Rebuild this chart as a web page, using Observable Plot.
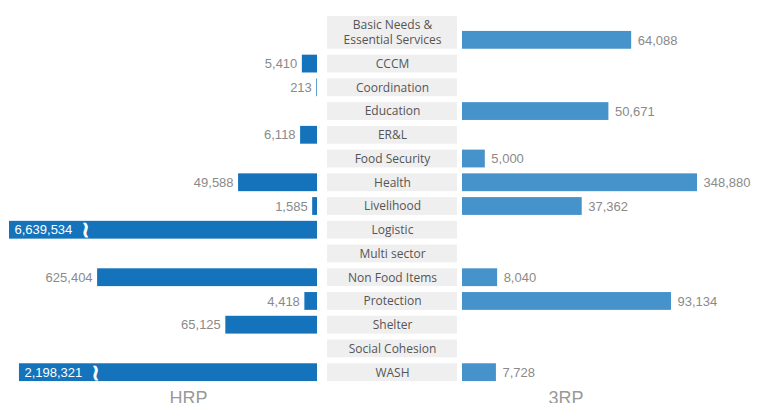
<!DOCTYPE html>
<html>
<head>
<meta charset="utf-8">
<script src="https://cdn.jsdelivr.net/npm/d3@7"></script>
<script src="https://cdn.jsdelivr.net/npm/@observablehq/plot@0.6"></script>
<style>
  html, body { margin: 0; padding: 0; background: #fff; }
  #chart { position: relative; width: 760px; height: 403px; overflow: hidden; }
  #chart > svg { position: absolute; top: 0; }
</style>
</head>
<body>
<div id="chart"></div>
<script>
const categories = [
  "Basic Needs &\nEssential Services", "CCCM", "Coordination", "Education", "ER&L",
  "Food Security", "Health", "Livelihood", "Logistic", "Multi sector",
  "Non Food Items", "Protection", "Shelter", "Social Cohesion", "WASH"
];
const hrpValues = [0, 5410, 213, 0, 6118, 0, 49588, 1585, 6639534, 0, 625404, 4418, 65125, 0, 2198321];
const rrpValues = [64088, 0, 0, 50671, 0, 5000, 348880, 37362, 0, 0, 8040, 93134, 0, 0, 7728];
const sideTitles = ["HRP", "3RP"];

const data = categories.map((c, i) => ({category: c, hrp: hrpValues[i], rrp: rrpValues[i]}));
const fmt = d3.format(",");

const H = 403;
const yScale = {domain: categories, padding: 0.25, round: false, axis: null};
const common = {height: H, marginTop: 25, marginBottom: 16, style: {background: "transparent", overflow: "visible"}};

const hrpMax = 2576000;
const rrpMax = 116800;
const leftColor = "#1473ba";
const rightColor = "#4692ca";
const valueColor = "#8a8a8a";
const valueFont = "'Liberation Sans', Arial, sans-serif";

// Left (HRP)
const left = Plot.plot({
  ...common,
  width: 327, marginLeft: 9, marginRight: 10,
  x: {type: "symlog", constant: 20000, domain: [0, hrpMax], clamp: true, reverse: true, axis: null},
  y: yScale,
  marks: [
    Plot.ruleX(data, {x: 0, y: "category", stroke: leftColor, strokeWidth: 1.5}),
    Plot.barX(data.filter(d => d.hrp > 0), {x: "hrp", y: "category", fill: leftColor}),
    Plot.text(data.filter(d => d.hrp > 0 && d.hrp < 1000000), {
      x: "hrp", y: "category", text: d => fmt(d.hrp), textAnchor: "end", dx: -5,
      fill: valueColor, fontSize: 13, fontFamily: valueFont
    }),
    Plot.text(data.filter(d => d.hrp >= 1000000), {
      x: "hrp", y: "category", text: d => fmt(d.hrp), textAnchor: "start", dx: 5,
      fill: "white", fontSize: 13, fontFamily: valueFont
    }),
    Plot.text(data.filter(d => d.hrp >= 1000000), {
      x: "hrp", y: "category", text: () => "\u2240", textAnchor: "start", dx: 72,
      fill: "white", stroke: "white", strokeWidth: 1, fontSize: 22, fontFamily: "DejaVu Sans"
    }),
    Plot.text([sideTitles[0]], {
      frameAnchor: "bottom", text: d => d, lineAnchor: "bottom", dy: 16, dx: 25,
      fill: "#999", fontSize: 18, fontFamily: valueFont
    })
  ]
});
left.style.left = "0px";

// Middle (category labels)
const middle = Plot.plot({
  ...common,
  width: 130, marginLeft: 0, marginRight: 0,
  x: {domain: [0, 1], axis: null},
  y: yScale,
  marks: [
    Plot.barX(data.slice(1), {x1: 0, x2: 1, y: "category", fill: "#efefef"}),
    Plot.barX(data.slice(0, 1), {x1: 0, x2: 1, y: "category", fill: "#efefef", insetTop: -15}),
    Plot.text(data.slice(1), {
      y: "category", text: "category", frameAnchor: "middle",
      fill: "#555", fontSize: 12, fontFamily: "'Open Sans', sans-serif"
    }),
    Plot.text(data.slice(0, 1), {
      y: "category", text: "category", frameAnchor: "middle", dy: -9, lineHeight: 1.25,
      fill: "#555", fontSize: 12, fontFamily: "'Open Sans', sans-serif"
    })
  ]
});
middle.style.left = "327px";

// Right (3RP)
const right = Plot.plot({
  ...common,
  width: 303, marginLeft: 5, marginRight: 63,
  x: {type: "symlog", constant: 30000, domain: [0, rrpMax], clamp: true, axis: null},
  y: yScale,
  marks: [
    Plot.ruleX(data, {x: 0, y: "category", stroke: rightColor, strokeWidth: 1.5}),
    Plot.barX(data.filter(d => d.rrp > 0), {x: "rrp", y: "category", fill: rightColor}),
    Plot.text(data.filter(d => d.rrp > 0), {
      x: "rrp", y: "category", text: d => fmt(d.rrp), textAnchor: "start", dx: 6,
      fill: valueColor, fontSize: 13, fontFamily: valueFont
    }),
    Plot.text([sideTitles[1]], {
      frameAnchor: "bottom", text: d => d, lineAnchor: "bottom", dy: 16, dx: -14,
      fill: "#999", fontSize: 18, fontFamily: valueFont
    })
  ]
});
right.style.left = "457px";

const chart = document.getElementById("chart");
chart.append(left, middle, right);
</script>
</body>
</html>
